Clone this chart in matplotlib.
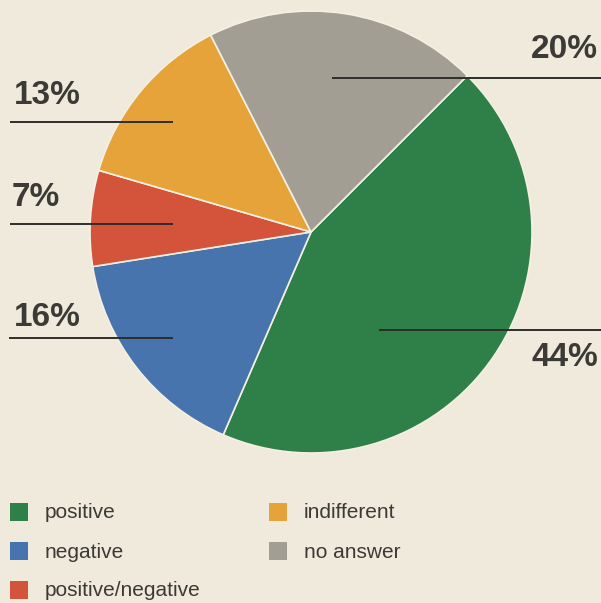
import numpy as np
import matplotlib.pyplot as plt
from matplotlib.patches import Rectangle

# data
categories = ["positive", "negative", "positive/negative", "indifferent", "no answer"]
shares = [44, 16, 7, 13, 20]
colors = ["#2f8048", "#4874ae", "#d4533b", "#e6a33a", "#a29e93"]

W, H = 601, 603
bg = "#efeadb"
txt = "#3b3a36"

fig = plt.figure(figsize=(W / 100, H / 100), dpi=100, facecolor=bg)
ax = fig.add_axes([0, 0, 1, 1])

cx, cy, r = 311, H - 232, 221
ax.pie(shares, colors=colors, startangle=45, counterclock=False,
       center=(cx, cy), radius=r, frame=True,
       wedgeprops=dict(edgecolor="#f4f0e2", linewidth=1.2))
ax.set_xlim(0, W)
ax.set_ylim(0, H)
ax.set_aspect("equal")
ax.axis("off")

# leader lines + percentage labels (pixel layout, top-left origin)
# (category index, line y, x0, x1, label x, label y, ha)
layout = [
    (4, 78, 332, 601, 598, 49, "right"),
    (0, 330, 379, 601, 598, 357, "right"),
    (3, 122, 10, 173, 14, 96, "left"),
    (2, 224, 10, 173, 12, 197, "left"),
    (1, 338, 9, 173, 14, 318, "left"),
]
for i, ly, x0, x1, tx, ty, ha in layout:
    ax.plot([x0, x1], [H - ly, H - ly], color="#2e2d2a", lw=1.4, solid_capstyle="butt")
    ax.text(tx, H - ty, f"{shares[i]}%", ha=ha, va="center", fontsize=24,
            fontweight="heavy", color=txt, family=["Liberation Sans", "DejaVu Sans"])

# legend
legend_pos = [(10, 512), (10, 551), (10, 590), (269, 512), (269, 551)]
for (x, y), name, c in zip(legend_pos, categories, colors):
    ax.add_patch(Rectangle((x, H - y - 9), 18, 18, facecolor=c, edgecolor="none"))
    ax.text(x + 35, H - y - 1, name, ha="left", va="center", fontsize=15,
            color=txt, family=["Liberation Sans", "DejaVu Sans"])

fig.savefig("out.png", dpi=100, facecolor=bg)
